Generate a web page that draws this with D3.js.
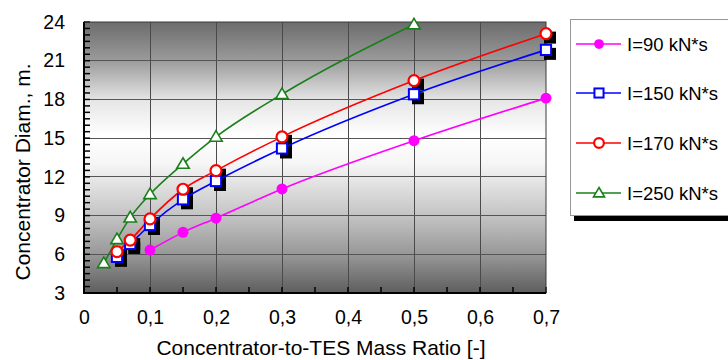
<!DOCTYPE html>
<html><head><meta charset="utf-8">
<script src="https://cdn.jsdelivr.net/npm/d3@7"></script>
<style>body{margin:0;background:#fff;}svg{display:block;font-family:"Liberation Sans",Arial,sans-serif;}</style>
</head><body><svg id="c" width="728" height="360"></svg>
<script>
const xTicks = [0, 0.1, 0.2, 0.3, 0.4, 0.5, 0.6, 0.7];
const xTickLabels = ["0", "0,1", "0,2", "0,3", "0,4", "0,5", "0,6", "0,7"];
const yTicks = [3, 6, 9, 12, 15, 18, 21, 24];

const names = ["I=90 kN*s", "I=150 kN*s", "I=170 kN*s", "I=250 kN*s"];
const colors = ["#ff00ff", "#0000ff", "#ff0000", "#1a7f1a"];

const x90 = [0.1, 0.15, 0.2, 0.3, 0.5, 0.7];
const y90 = [6.33, 7.7, 8.8, 11.06, 14.8, 18.1];
const x150 = [0.05, 0.07, 0.1, 0.15, 0.2, 0.3, 0.5, 0.7];
const y150 = [5.8, 6.8, 8.27, 10.26, 11.68, 14.2, 18.4, 21.84];
const x170 = [0.05, 0.07, 0.1, 0.15, 0.2, 0.3, 0.5, 0.7];
const y170 = [6.2, 7.1, 8.74, 11.04, 12.48, 15.1, 19.46, 23.1];
const x250 = [0.03, 0.05, 0.07, 0.1, 0.15, 0.2, 0.3, 0.5];
const y250 = [5.3, 7.16, 8.84, 10.65, 13.0, 15.1, 18.4, 23.8];

const seriesX = [x90, x150, x170, x250];
const seriesY = [y90, y150, y170, y250];
const markers = ["dot", "square", "circle", "triangle"];
const shadowed = [false, true, true, false];

const svg = d3.select("#c");
const L = 84, R = 546, T = 22, B = 293;
const x = d3.scaleLinear().domain([0, 0.7]).range([L, R]);
const y = d3.scaleLinear().domain([3, 24]).range([B, T]);

const defs = svg.append("defs");
const g = defs.append("linearGradient").attr("id", "bg").attr("x1", 0).attr("y1", 0).attr("x2", 0).attr("y2", 1);
[[0, "#6c6c6c"], [0.14, "#9a9a9a"], [0.29, "#e6e6e6"], [0.42, "#ffffff"], [0.52, "#f6f6f6"], [0.72, "#c2c2c2"], [0.86, "#979797"], [1, "#5e5e5e"]]
  .forEach(s => g.append("stop").attr("offset", s[0]).attr("stop-color", s[1]));
defs.append("clipPath").attr("id", "clip").append("rect").attr("x", L).attr("y", T - 10).attr("width", R - L + 20).attr("height", B - T + 10);

svg.append("rect").attr("x", L).attr("y", T).attr("width", R - L).attr("height", B - T).attr("fill", "url(#bg)");

// grid
svg.append("g").selectAll("line").data(xTicks.slice(1, -1)).join("line")
  .attr("x1", d => x(d)).attr("x2", d => x(d)).attr("y1", T).attr("y2", B)
  .attr("stroke", "#4a4a4a").attr("stroke-width", 1).attr("shape-rendering", "crispEdges");
svg.append("g").selectAll("line").data(yTicks.slice(1, -1)).join("line")
  .attr("x1", L).attr("x2", R).attr("y1", d => y(d)).attr("y2", d => y(d))
  .attr("stroke", "#555").attr("stroke-width", 1).attr("shape-rendering", "crispEdges");

// minor ticks (inside)
const yMinor = d3.range(3, 24.01, 0.5);
svg.append("g").selectAll("line").data(yMinor).join("line")
  .attr("x1", L).attr("x2", L + 6).attr("y1", d => y(d)).attr("y2", d => y(d))
  .attr("stroke", "#000").attr("stroke-width", 1.5);
const xMinor = d3.range(0, 0.701, 0.05);
svg.append("g").selectAll("line").data(xMinor).join("line")
  .attr("x1", d => x(d)).attr("x2", d => x(d)).attr("y1", B).attr("y2", B - 6)
  .attr("stroke", "#000").attr("stroke-width", 1.5);

// border
svg.append("rect").attr("x", L).attr("y", T).attr("width", R - L).attr("height", B - T)
  .attr("fill", "none").attr("stroke", "#3a3a3a").attr("stroke-width", 1);
svg.append("line").attr("x1", L).attr("x2", L).attr("y1", T).attr("y2", B + 1).attr("stroke", "#000").attr("stroke-width", 2);
svg.append("line").attr("x1", L - 1).attr("x2", R).attr("y1", B).attr("y2", B).attr("stroke", "#000").attr("stroke-width", 2);

// axes labels
const yAxis = d3.axisLeft(y).tickValues(yTicks).tickSize(0).tickPadding(19);
const ya = svg.append("g").attr("transform", `translate(${L},0)`).call(yAxis);
ya.select(".domain").remove();
ya.selectAll("text").attr("font-size", 19.5).attr("font-family", "Liberation Sans, Arial").attr("fill", "#000");
const xAxis = d3.axisBottom(x).tickValues(xTicks).tickFormat((d, i) => xTickLabels[i]).tickSize(0).tickPadding(17);
const xa = svg.append("g").attr("transform", `translate(0,${B})`).call(xAxis);
xa.select(".domain").remove();
xa.selectAll("text").attr("font-size", 19.5).attr("font-family", "Liberation Sans, Arial").attr("fill", "#000");

svg.append("text").attr("x", 321).attr("y", 355).attr("text-anchor", "middle")
  .attr("font-size", 21).text("Concentrator-to-TES Mass Ratio [-]");
svg.append("text").attr("transform", `translate(30,172) rotate(-90)`).attr("text-anchor", "middle")
  .attr("font-size", 21).text("Concentrator Diam., m.");

// markers
function drawMarker(sel, type, color, cx, cy, size) {
  if (type === "dot") {
    sel.append("circle").attr("cx", cx).attr("cy", cy).attr("r", size * 0.75).attr("fill", color);
  } else if (type === "square") {
    sel.append("rect").attr("x", cx - size * 0.7).attr("y", cy - size * 0.7).attr("width", size * 1.4).attr("height", size * 1.4)
      .attr("fill", "#fff").attr("stroke", color).attr("stroke-width", 2);
  } else if (type === "circle") {
    sel.append("circle").attr("cx", cx).attr("cy", cy).attr("r", size * 0.75).attr("fill", "#fff").attr("stroke", color).attr("stroke-width", 2.2);
  } else {
    const s = size * 0.85;
    sel.append("path").attr("d", `M${cx},${cy - s}L${cx + s},${cy + s * 0.7}L${cx - s},${cy + s * 0.7}Z`)
      .attr("fill", "#fff").attr("stroke", color).attr("stroke-width", 1.6);
  }
}

const plot = svg.append("g").attr("clip-path", "url(#clip)");
const line = d3.line().x(d => x(d[0])).y(d => y(d[1])).curve(d3.curveMonotoneX);
// shadows
seriesX.forEach((xs, si) => {
  if (!shadowed[si]) return;
  xs.forEach((xv, i) => {
    plot.append("rect").attr("x", x(xv) - 2).attr("y", y(seriesY[si][i]) - 2).attr("width", 12).attr("height", 12).attr("fill", "#000");
  });
});
seriesX.forEach((xs, si) => {
  const pts = xs.map((xv, i) => [xv, seriesY[si][i]]);
  plot.append("path").attr("d", line(pts)).attr("fill", "none").attr("stroke", colors[si]).attr("stroke-width", 1.6);
});
seriesX.forEach((xs, si) => {
  xs.forEach((xv, i) => drawMarker(plot, markers[si], colors[si], x(xv), y(seriesY[si][i]), 7.3));
});

// legend
const lg = svg.append("g");
lg.append("rect").attr("x", 574).attr("y", 23).attr("width", 160).attr("height", 198).attr("fill", "#000");
lg.append("rect").attr("x", 570.5).attr("y", 19.5).attr("width", 160).attr("height", 196).attr("fill", "#fff").attr("stroke", "#999");
const ly = [44, 93, 143, 193];
names.forEach((n, i) => {
  lg.append("line").attr("x1", 576).attr("x2", 621).attr("y1", ly[i]).attr("y2", ly[i]).attr("stroke", colors[i]).attr("stroke-width", 1.3);
  drawMarker(lg, markers[i], colors[i], 599, ly[i], 6.5);
  lg.append("text").attr("x", 627).attr("y", ly[i] + 7).attr("font-size", 18.5).text(n);
});
</script></body></html>
